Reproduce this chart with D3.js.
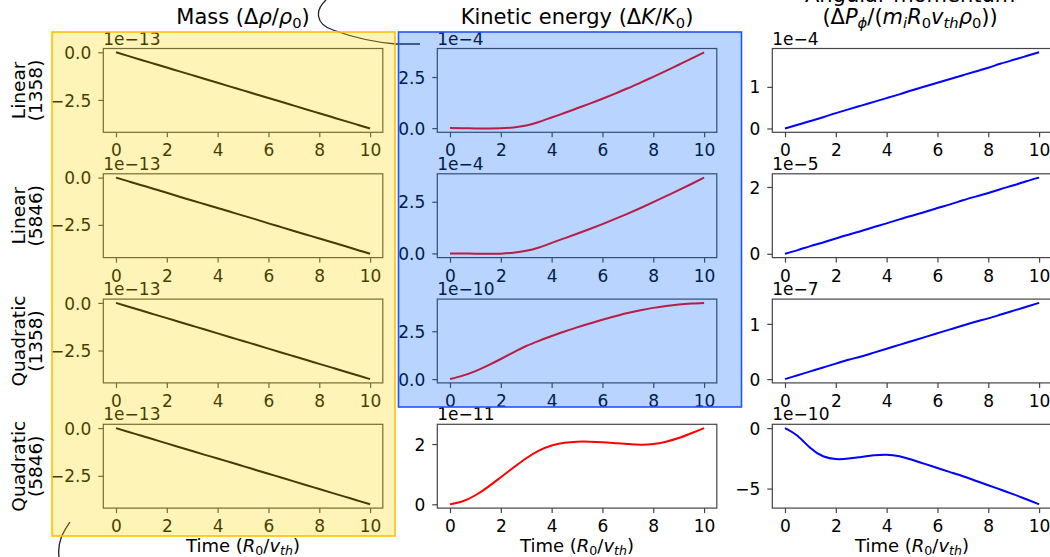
<!DOCTYPE html>
<html><head><meta charset="utf-8">
<script src="https://cdn.jsdelivr.net/npm/d3@7"></script>
<style>html,body{margin:0;padding:0;background:#fff;overflow:hidden}svg{display:block}</style>
</head><body>
<svg id="c" width="1050" height="557"></svg>
<script>
// ---------- data ----------
const time = [0,0.5,1,1.5,2,2.5,3,3.5,4,4.5,5,5.5,6,6.5,7,7.5,8,8.5,9,9.5,10];
const xTicks = [0,2,4,6,8,10];
const rowLabels = [["Linear","(1358)"],["Linear","(5846)"],["Quadratic","(1358)"],["Quadratic","(5846)"]];

// Mass (x1e-13)
const massLin1358  = [0,-0.2,-0.4,-0.6,-0.8,-1.0,-1.2,-1.4,-1.6,-1.8,-2.0,-2.2,-2.4,-2.6,-2.8,-3.0,-3.2,-3.4,-3.6,-3.8,-4.0];
const massLin5846  = [0,-0.2,-0.4,-0.6,-0.8,-1.01,-1.21,-1.41,-1.61,-1.81,-2.01,-2.21,-2.42,-2.62,-2.82,-3.02,-3.22,-3.42,-3.62,-3.83,-4.03];
const massQuad1358 = [0,-0.2,-0.4,-0.6,-0.8,-1.0,-1.2,-1.4,-1.6,-1.8,-2.0,-2.2,-2.4,-2.6,-2.8,-3.0,-3.2,-3.4,-3.6,-3.8,-4.0];
const massQuad5846 = [0,-0.2,-0.4,-0.6,-0.8,-1.0,-1.2,-1.4,-1.59,-1.79,-1.99,-2.19,-2.39,-2.59,-2.79,-2.99,-3.19,-3.39,-3.59,-3.79,-3.99];
const massTickVals = [0,-2.5];
const massTickLabels = ["0.0","\u22122.5"];

// Kinetic energy
const keLin1358  = [0,-0.006,-0.014,-0.018,-0.01,0.035,0.13,0.3,0.52,0.74,0.97,1.2,1.44,1.69,1.95,2.23,2.51,2.8,3.1,3.4,3.71]; // x1e-4
const keLin5846  = [0,-0.006,-0.014,-0.018,-0.01,0.033,0.125,0.29,0.51,0.73,0.95,1.18,1.42,1.67,1.93,2.2,2.48,2.77,3.06,3.36,3.67]; // x1e-4
const keQuad1358 = [0,0.18,0.42,0.72,1.05,1.4,1.73,2.0,2.25,2.48,2.7,2.9,3.1,3.28,3.45,3.6,3.72,3.82,3.9,3.95,3.98]; // x1e-10
const keQuad5846 = [0,0.1,0.3,0.58,0.9,1.22,1.53,1.78,1.95,2.04,2.08,2.08,2.06,2.03,2.0,1.98,2.0,2.08,2.2,2.36,2.53]; // x1e-11

// Angular momentum
const amLin1358  = [0,0.09,0.18,0.27,0.37,0.46,0.55,0.64,0.73,0.82,0.92,1.01,1.1,1.19,1.28,1.37,1.46,1.56,1.65,1.74,1.83]; // x1e-4
const amLin5846  = [0,0.11,0.23,0.34,0.46,0.57,0.68,0.8,0.91,1.03,1.14,1.25,1.37,1.48,1.6,1.71,1.82,1.94,2.05,2.17,2.28]; // x1e-5
const amQuad1358 = [0,0.07,0.14,0.21,0.28,0.35,0.41,0.48,0.55,0.62,0.69,0.76,0.83,0.9,0.97,1.04,1.1,1.17,1.24,1.31,1.38]; // x1e-7
const amQuad5846 = [0,-0.65,-1.65,-2.33,-2.56,-2.52,-2.38,-2.25,-2.2,-2.33,-2.62,-2.96,-3.3,-3.64,-3.98,-4.35,-4.72,-5.1,-5.48,-5.88,-6.3]; // x1e-10

const panels = [
  {c:0,r:0,y:massLin1358, off:"1e\u221213", tv:massTickVals, tl:massTickLabels},
  {c:0,r:1,y:massLin5846, off:"1e\u221213", tv:massTickVals, tl:massTickLabels},
  {c:0,r:2,y:massQuad1358,off:"1e\u221213", tv:massTickVals, tl:massTickLabels},
  {c:0,r:3,y:massQuad5846,off:"1e\u221213", tv:massTickVals, tl:massTickLabels},
  {c:1,r:0,y:keLin1358, off:"1e\u22124",  tv:[0,2.5], tl:["0.0","2.5"]},
  {c:1,r:1,y:keLin5846, off:"1e\u22124",  tv:[0,2.5], tl:["0.0","2.5"]},
  {c:1,r:2,y:keQuad1358,off:"1e\u221210", tv:[0,2.5], tl:["0.0","2.5"]},
  {c:1,r:3,y:keQuad5846,off:"1e\u221211", tv:[0,2], tl:["0","2"]},
  {c:2,r:0,y:amLin1358, off:"1e\u22124",  tv:[0,1], tl:["0","1"]},
  {c:2,r:1,y:amLin5846, off:"1e\u22125",  tv:[0,2], tl:["0","2"]},
  {c:2,r:2,y:amQuad1358,off:"1e\u22127",  tv:[0,1], tl:["0","1"]},
  {c:2,r:3,y:amQuad5846,off:"1e\u221210", tv:[0,-5], tl:["0","\u22125"]}
];
const lineColors = ["#000000","#ff0000","#0000ff"];

// ---------- layout ----------
const FONT = "DejaVu Sans, Verdana, sans-serif";
const colX = [103.3, 437.3, 772.3], axW = 279.5;
const rowY = [48.5, 173.8, 299.1, 424.3], axH = 83.8;
const TICK = 17;
const svg = d3.select("#c").style("font-family", FONT);

function mathText(g, segs, size) {
  let shift = 0;
  segs.forEach(([t, s]) => {
    const sub = s === "s" || s === "si";
    const ital = s === "i" || s === "si";
    const target = sub ? size * 0.2 : 0;
    const ts = g.append("tspan").text(t)
      .attr("font-size", sub ? size * 0.7 : size)
      .attr("font-style", ital ? "italic" : "normal");
    if (target !== shift) { ts.attr("dy", target - shift); shift = target; }
  });
}

panels.forEach(p => {
  const x0 = colX[p.c], y0 = rowY[p.r];
  const g = svg.append("g").attr("transform", `translate(${x0},${y0})`);
  const x = d3.scaleLinear().domain([-0.5, 10.5]).range([0, axW]);
  const ext = d3.extent(p.y), pad = (ext[1] - ext[0]) * 0.05;
  const y = d3.scaleLinear().domain([ext[0] - pad, ext[1] + pad]).range([axH, 0]);

  const line = d3.line().x((d, i) => x(time[i])).y(d => y(d)).curve(d3.curveNatural);
  g.append("path").datum(p.y).attr("d", line).attr("fill", "none")
    .attr("stroke", lineColors[p.c]).attr("stroke-width", 2);

  g.append("rect").attr("width", axW).attr("height", axH)
    .attr("fill", "none").attr("stroke", "#444").attr("stroke-width", 1.2);

  const xa = g.append("g").attr("transform", `translate(0,${axH})`)
    .call(d3.axisBottom(x).tickValues(xTicks).tickSize(5).tickSizeOuter(0).tickPadding(7).tickFormat(d3.format("d")));
  const ya = g.append("g")
    .call(d3.axisLeft(y).tickValues(p.tv).tickSize(5).tickSizeOuter(0).tickPadding(7).tickFormat((d, i) => p.tl[i]));
  [xa, ya].forEach(a => {
    a.select(".domain").remove();
    a.selectAll("line").attr("stroke", "#444").attr("stroke-width", 1.2);
    a.selectAll("text").attr("font-size", TICK).attr("font-family", FONT).attr("fill", "#000");
  });
  ya.selectAll("text").attr("dy", "0.36em");

  g.append("text").attr("x", 0).attr("y", -4).attr("font-size", TICK).attr("fill", "#000").text(p.off);
});

// column titles
svg.append("text").attr("x", colX[0] + axW/2).attr("y", 24).attr("text-anchor", "middle")
  .call(t => mathText(t, [["Mass (\u0394","n"],["\u03c1","i"],["/","n"],["\u03c1","i"],["0","s"],[")","n"]], 21));
svg.append("text").attr("x", colX[1] + axW/2).attr("y", 24).attr("text-anchor", "middle")
  .call(t => mathText(t, [["Kinetic energy (\u0394","n"],["K","i"],["/","n"],["K","i"],["0","s"],[")","n"]], 21));
svg.append("text").attr("x", colX[2] + axW/2 - 2).attr("y", 2).attr("text-anchor", "middle")
  .attr("font-size", 21).text("Angular momentum");
svg.append("text").attr("x", colX[2] + axW/2 - 2).attr("y", 24).attr("text-anchor", "middle")
  .call(t => mathText(t, [["(\u0394","n"],["P","i"],["\u03d5","si"],["/(","n"],["m","i"],["i","si"],["R","i"],["0","s"],["v","i"],["th","si"],["\u03c1","i"],["0","s"],["))","n"]], 21));

// x labels
[0,1,2].forEach(c => {
  svg.append("text").attr("x", colX[c] + axW/2).attr("y", 551.5).attr("text-anchor", "middle")
    .call(t => mathText(t, [["Time (","n"],["R","i"],["0","s"],["/","n"],["v","i"],["th","si"],[")","n"]], 18));
});

// row labels
rowLabels.forEach((lab, r) => {
  const yc = rowY[r] + axH/2;
  lab.forEach((s, k) => {
    svg.append("text").attr("transform", `translate(${k ? 41.5 : 24.5},${yc}) rotate(-90)`)
      .attr("text-anchor", "middle").attr("font-size", 18.5).attr("fill", "#000").text(s);
  });
});

// hand-drawn annotation strokes
svg.append("path").attr("d", "M326,0 C315,10 315,24 333,30 C352,37 372,42 396,44 L420,44")
  .attr("fill", "none").attr("stroke", "#222").attr("stroke-width", 1.3);
svg.append("path").attr("d", "M70,522 C64,531 57,541 59,557")
  .attr("fill", "none").attr("stroke", "#222").attr("stroke-width", 1.3);

// highlight overlays
svg.append("rect").attr("x", 52).attr("y", 32).attr("width", 343).attr("height", 504)
  .attr("fill", "#ffd700").attr("fill-opacity", 0.28)
  .attr("stroke", "#ffc000").attr("stroke-width", 1.6);
svg.append("rect").attr("x", 398.5).attr("y", 32).attr("width", 343).attr("height", 375)
  .attr("fill", "#0066ff").attr("fill-opacity", 0.28)
  .attr("stroke", "#1f55ff").attr("stroke-width", 1.6);
</script>
</body></html>
